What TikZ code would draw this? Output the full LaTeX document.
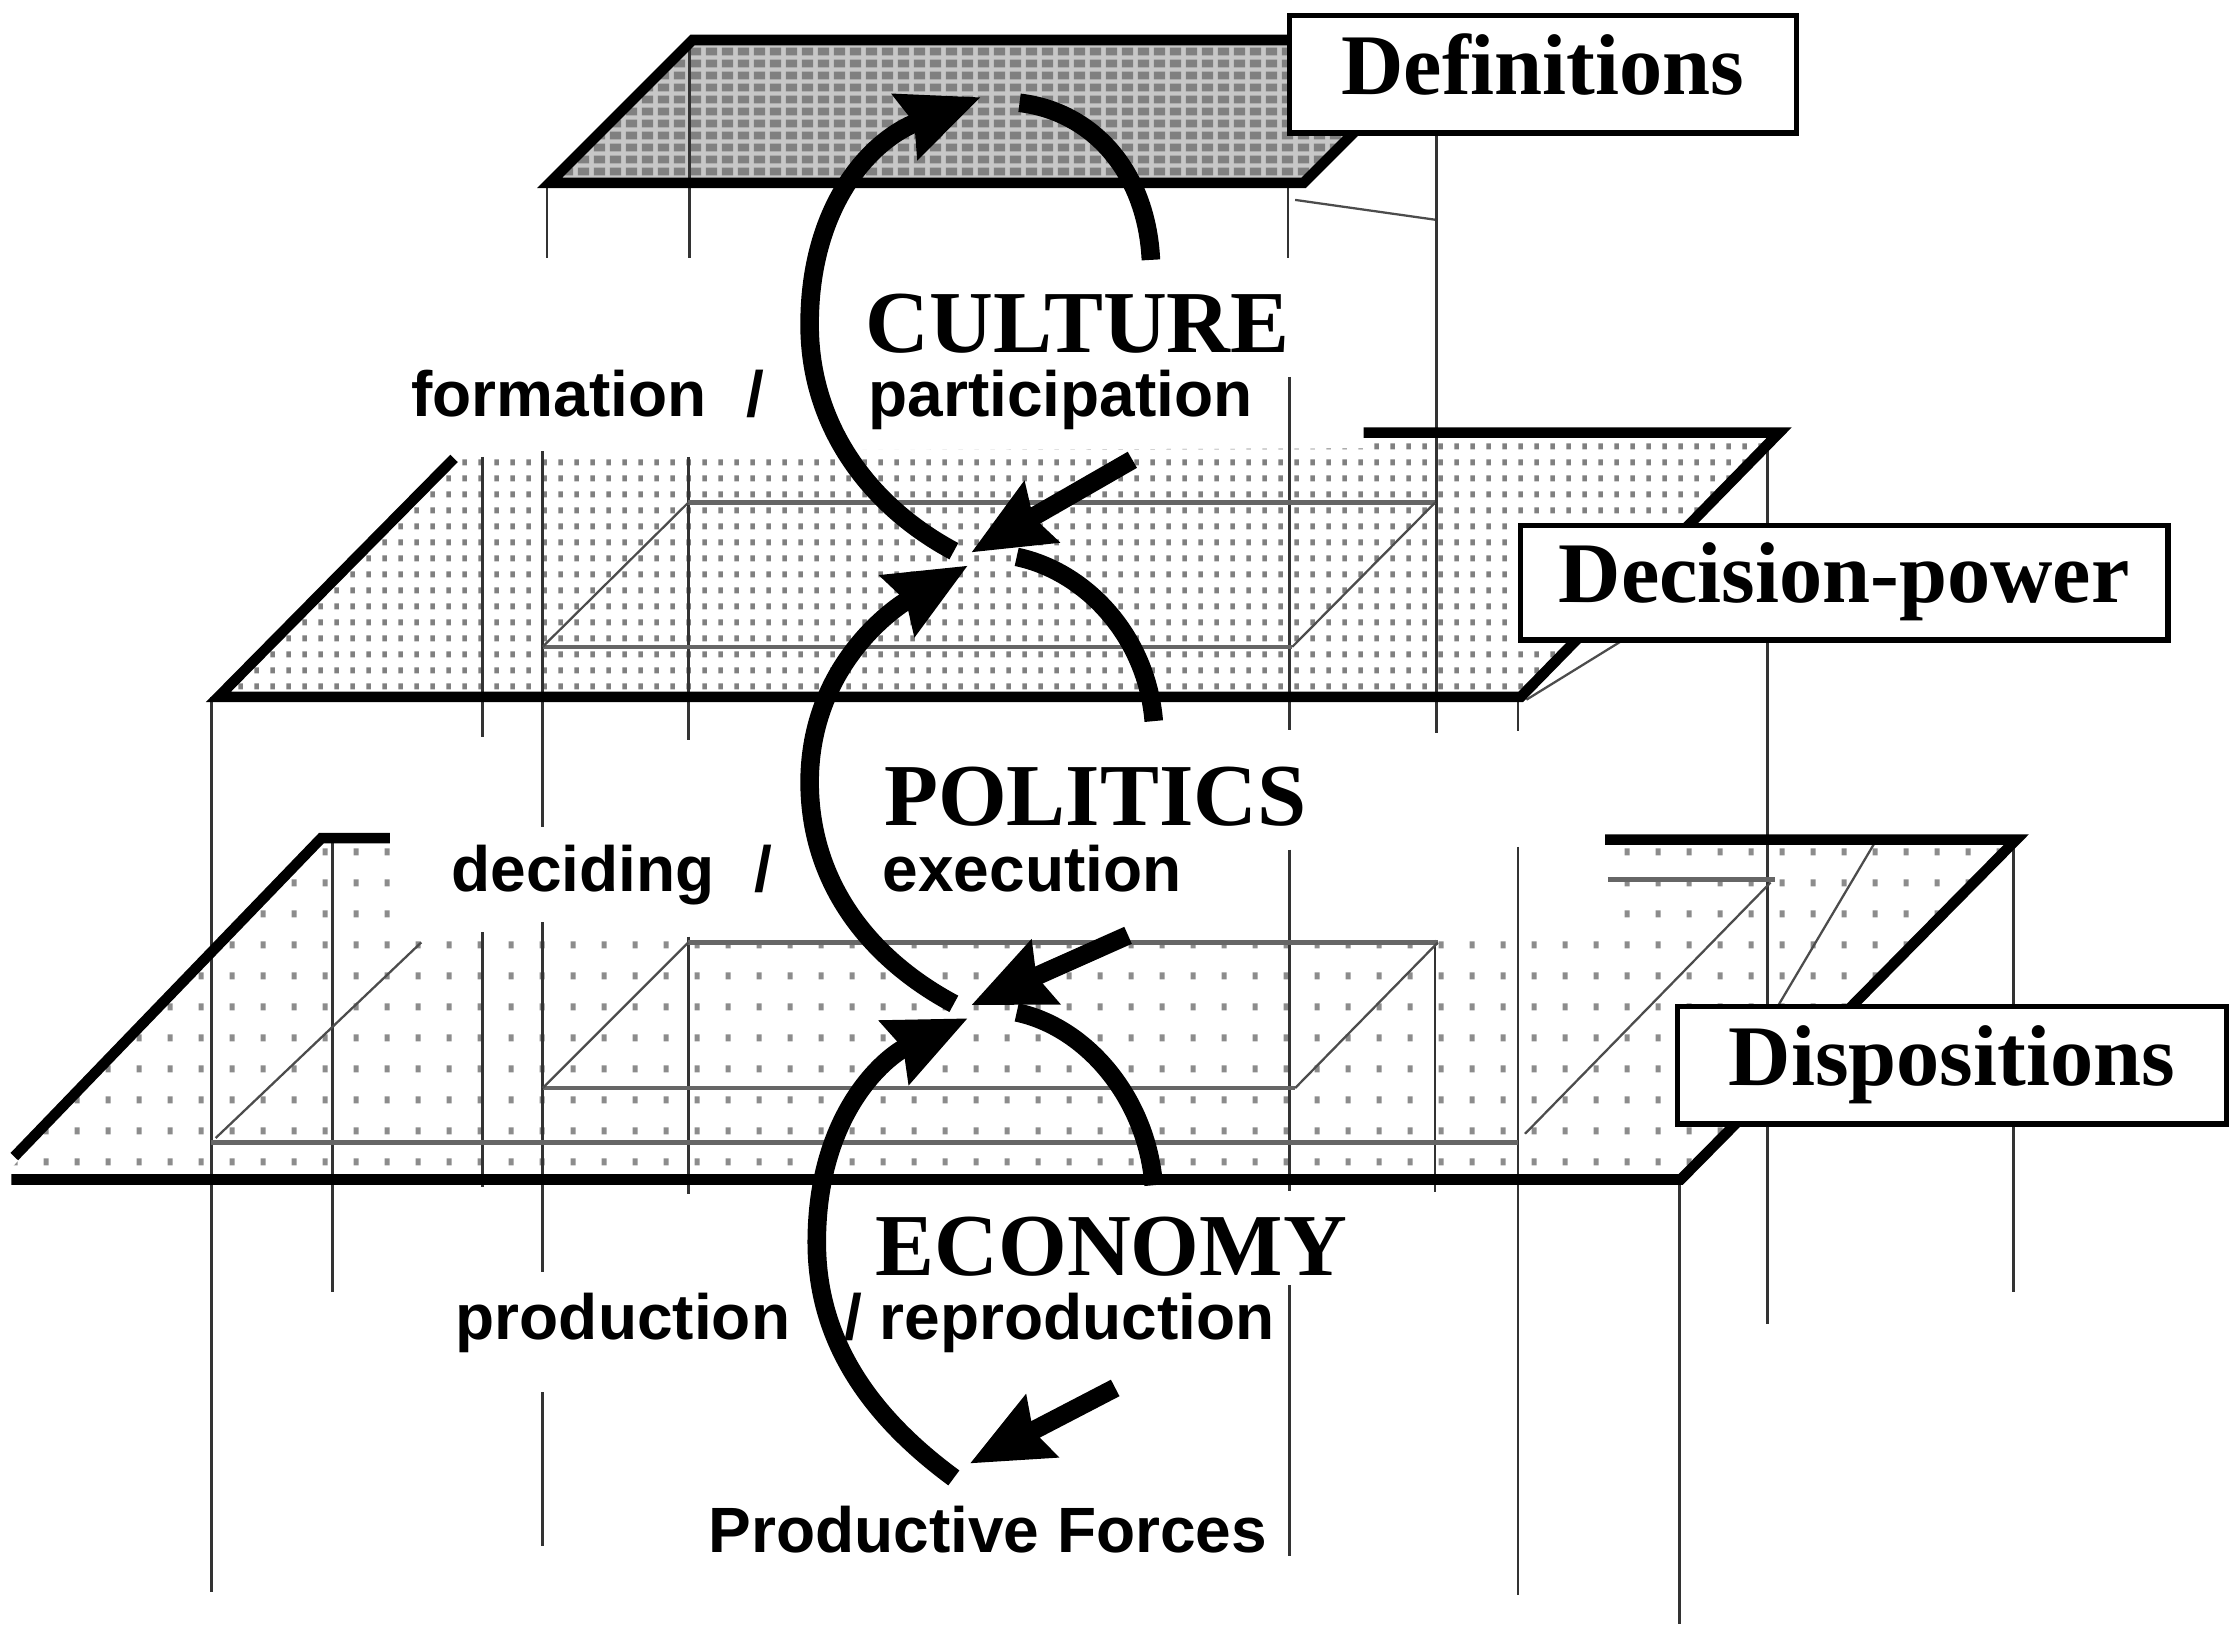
\documentclass[tikz,border=0pt]{standalone}
\usepackage{fontspec}
\setmainfont{Liberation Serif}
\setsansfont{Liberation Sans}
\usetikzlibrary{arrows.meta,patterns}

\pgfdeclarepatternformonly{topgrid}{\pgfqpoint{0pt}{0pt}}{\pgfqpoint{3.1pt}{2.3pt}}{\pgfqpoint{3.1pt}{2.3pt}}{\pgfpathrectangle{\pgfqpoint{0.4pt}{0.35pt}}{\pgfqpoint{2.3pt}{1.6pt}}\pgfusepath{fill}}
\pgfdeclarepatternformonly{middots}{\pgfqpoint{0pt}{0pt}}{\pgfqpoint{3.1pt}{3.1pt}}{\pgfqpoint{3.1pt}{3.1pt}}{\pgfpathrectangle{\pgfqpoint{1.1pt}{0.95pt}}{\pgfqpoint{0.9pt}{1.2pt}}\pgfusepath{fill}}
\pgfdeclarepatternformonly{lowdots}{\pgfqpoint{0pt}{0pt}}{\pgfqpoint{6.2pt}{6.2pt}}{\pgfqpoint{6.2pt}{6.2pt}}{\pgfpathrectangle{\pgfqpoint{2.6pt}{2.4pt}}{\pgfqpoint{1pt}{1.4pt}}\pgfusepath{fill}}

\tikzset{
  post/.style={line width=0.55pt, draw=black!80},
  innerln/.style={line width=0.9pt, draw=black!60},
  diagln/.style={line width=0.45pt, draw=black!70},
  edgeln/.style={line width=2.1pt, line join=miter, line cap=butt},
  flow/.style={line width=3.7pt, line cap=butt},
  flowtip/.style={-{Stealth[length=0.56cm,width=0.47cm,inset=0.06cm]}},
  bigl/.style={font=\fontsize{17.6pt}{20pt}\selectfont\bfseries, fill=white, inner xsep=1pt, inner ysep=1pt, anchor=base west},
  smalll/.style={font=\fontsize{12.75pt}{15pt}\selectfont\sffamily\bfseries, fill=white, inner xsep=1pt, inner ysep=1pt, anchor=base west},
  labelbox/.style={draw, line width=1.1pt, fill=white, font=\fontsize{17.2pt}{20pt}\selectfont\bfseries, text height=0.41cm, text depth=0.13cm, inner sep=0pt}
}

\begin{document}
\begin{tikzpicture}[x=0.01cm, y=-0.01cm]
\useasboundingbox (0,0) rectangle (1568,1151);
\fill[white] (0,0) rectangle (1568,1151);

% ---------- plane fills ----------
\fill[black!22] (385,128) -- (485,28) -- (1013,28) -- (913,128) -- cycle;
\fill[pattern=topgrid, pattern color=black!50] (385,128) -- (485,28) -- (1013,28) -- (913,128) -- cycle;
\fill[pattern=middots, pattern color=black!50] (153,488) -- (1065,488) -- (1246,303) -- (955,303) -- (955,314) -- (323,316) -- cycle;
\fill[pattern=lowdots, pattern color=black!45] (8,826) -- (1177,826) -- (1412,588) -- (1126,588) -- (1126,650) -- (280,650) -- (280,588) -- (225,588) -- (8,818) -- cycle;

% ---------- posts: top plane ----------
\draw[post] (383,128) -- (383,181);
\draw[post] (483,28) -- (483,181);
\draw[post] (902,128) -- (902,181);
\draw[diagln] (907,140) -- (1006,154);
\draw[post] (1006,60) -- (1006,513);

% ---------- posts: middle plane ----------
\draw[post] (148,488) -- (148,1115);
\draw[post] (338,320) -- (338,516);
\draw[post] (380,316) -- (380,579);
\draw[post] (380,646) -- (380,891);
\draw[post] (380,975) -- (380,1083);
\draw[post] (482,320) -- (482,518);
\draw[post] (903,264) -- (903,511);
\draw[post] (1063,488) -- (1063,512);
\draw[post] (1238,303) -- (1238,927);
\draw[innerln] (482,352) -- (1005,352);
\draw[innerln] (380,453) -- (905,453);
\draw[diagln] (380,453) -- (482,352);
\draw[diagln] (905,453) -- (1005,352);
\draw[diagln] (1069,490) -- (1150,440);

% ---------- posts: bottom plane ----------
\draw[post] (233,590) -- (233,905);
\draw[post] (338,653) -- (338,831);
\draw[post] (482,656) -- (482,836);
\draw[post] (903,595) -- (903,834);
\draw[post] (903,900) -- (903,1090);
\draw[post] (1005,658) -- (1005,835);
\draw[post] (1063,593) -- (1063,1117);
\draw[post] (1176,826) -- (1176,1137);
\draw[post] (1410,588) -- (1410,905);
\draw[innerln] (482,660) -- (1007,660);
\draw[innerln] (380,762) -- (907,762);
\draw[diagln] (380,762) -- (482,660);
\draw[diagln] (907,762) -- (1007,660);
\draw[innerln] (148,800) -- (1063,800);
\draw[diagln] (151,797) -- (295,660);
\draw[diagln] (1068,794) -- (1240,618);
\draw[innerln] (1126,616) -- (1243,616);
\draw[diagln] (1313,590) -- (1230,730);

% ---------- thick plane edges ----------
\draw[edgeln] (385,128) -- (485,28) -- (1013,28) -- (913,128) -- cycle;
\draw[edgeln] (318,321) -- (153,488) -- (1065,488) -- (1246,303) -- (955,303);
\draw[edgeln] (273,587) -- (225,587) -- (10,810);
\draw[edgeln] (8,826) -- (1177,826) -- (1412,588) -- (1124,588);

% ---------- boxes ----------
\node[labelbox, minimum width=3.55cm, minimum height=0.82cm] (def) at (1080.5,52) {Definitions};
\node[labelbox, minimum width=4.53cm, minimum height=0.80cm] (dec) at (1291.5,408) {Decision-power};
\node[labelbox, minimum width=3.84cm, minimum height=0.82cm] (disp) at (1367,746) {Dispositions};

% ---------- labels ----------
\node[bigl] (cult) at (602,247) {CULTURE};
\node[bigl] (pol) at (615,578) {POLITICS};
\node[bigl] (eco) at (609,893) {ECONOMY};
\node[smalll] (form) at (284,292) {formation\hspace{0.28cm}/};
\node[smalll] (part) at (604,292) {participation};
\node[smalll] (decd) at (312,624) {deciding\hspace{0.28cm}/};
\node[smalll] (exec) at (614,624) {execution};
\node[smalll] (prod) at (315,938) {production};
\node[smalll] (repr) at (587,938) {/ reproduction};
\node[smalll] (pf) at (492,1087) {Productive Forces};

% ---------- flow coordinates ----------
\coordinate (c1in) at (668,386);
\coordinate (topT) at (687,68);
\coordinate (topR) at (714,72);
\coordinate (topE) at (806,182);
\coordinate (s1) at (793,322);
\coordinate (t1) at (680,387);
\coordinate (c2in) at (668,703);
\coordinate (m1) at (678,396);
\coordinate (c1out) at (712,390);
\coordinate (midE) at (808,505);
\coordinate (s2) at (790,655);
\coordinate (t2) at (680,704);
\coordinate (pfin) at (668,1035);
\coordinate (m2) at (678,713);
\coordinate (c2out) at (712,709);
\coordinate (lowE) at (808,830);
\coordinate (s3) at (781,972);
\coordinate (t3) at (679,1025);

% ---------- flows ----------
\draw[flow, flowtip] (c1in) .. controls (610,355) and (568,300) .. (567,230) .. controls (566,150) and (605,100) .. (topT);
\draw[flow] (topR) .. controls (765,78) and (803,120) .. (topE);
\draw[flow, flowtip] (s1) -- (t1);
\draw[flow, flowtip] (c2in) .. controls (610,672) and (568,620) .. (567,550) .. controls (566,470) and (622,428) .. (m1);
\draw[flow] (c1out) .. controls (760,400) and (803,445) .. (midE);
\draw[flow, flowtip] (s2) -- (t2);
\draw[flow, flowtip] (pfin) .. controls (600,985) and (572,930) .. (572,870) .. controls (572,780) and (620,740) .. (m2);
\draw[flow] (c2out) .. controls (760,719) and (803,768) .. (lowE);
\draw[flow, flowtip] (s3) -- (t3);
\end{tikzpicture}
\end{document}
